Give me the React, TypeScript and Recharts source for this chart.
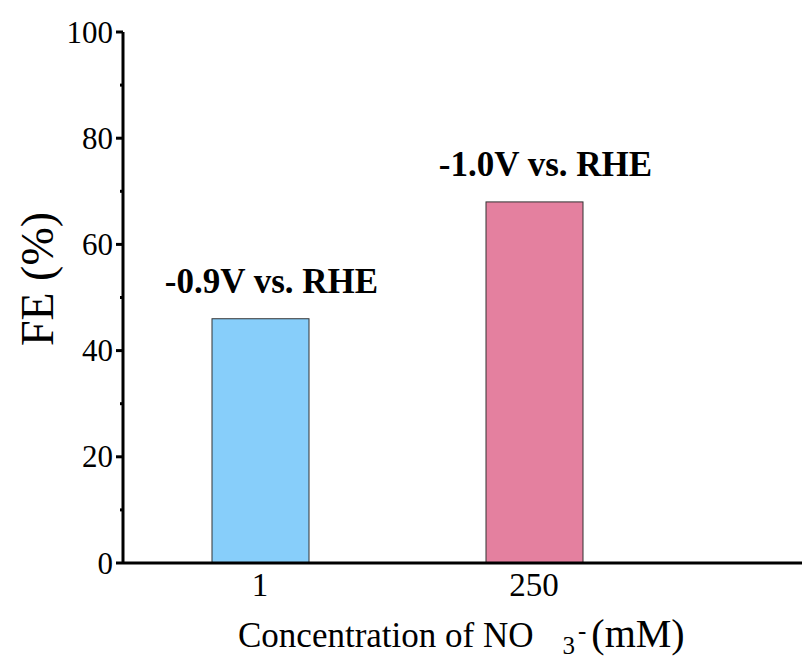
import { BarChart, Bar, XAxis, YAxis, LabelList } from 'recharts'

// NO3- concentration (mM) and Faradaic efficiency at the best potential
const concentrations = ['1', '250']
const faradaicEfficiency = [46, 68]
const potentials = ['-0.9V vs. RHE', '-1.0V vs. RHE']
const barColors = ['#87CEFA', '#E4809F']

const yTicks = [0, 10, 20, 30, 40, 50, 60, 70, 80, 90, 100]

const data = concentrations.map((c, i) => ({
  conc: c,
  fe: faradaicEfficiency[i],
  potential: potentials[i],
  color: barColors[i],
}))

const FONT = '"Liberation Serif", "Times New Roman", serif'

// major ticks every 20 with a label, short minor ticks in between
function YTick(props: any) {
  const { x, y, payload } = props
  const major = payload.value % 20 === 0
  return (
    <g>
      <line x1={x - (major ? 7 : 3)} x2={x} y1={y} y2={y} stroke="#000" strokeWidth={3} />
      {major && (
        <text x={x - 10} y={y} dy="0.34em" textAnchor="end" fontSize={31} fontFamily={FONT} fill="#000">
          {payload.value}
        </text>
      )}
    </g>
  )
}

function XLabel(props: any) {
  const { viewBox } = props
  const x = viewBox.x + 115
  const y = viewBox.y + 84
  return (
    <text x={x} y={y} textAnchor="start" fontSize={35} fontFamily={FONT} fill="#000">
      Concentration of NO
      <tspan fontSize={25} dx={29} dy={7}>3</tspan>
      <tspan fontSize={25} dx={3} dy={-15}>-</tspan>
      <tspan fontSize={40} dx={5} dy={8}>(mM)</tspan>
    </text>
  )
}

function YLabel() {
  const cx = 37
  const cy = 279
  return (
    <text x={cx} y={cy} transform={`rotate(-90 ${cx} ${cy})`} textAnchor="middle" dy="0.35em" fontSize={46} fontFamily={FONT} fill="#000">
      FE (%)
    </text>
  )
}

// potential written above each bar
function PotentialLabel(props: any) {
  const { x, y, width, value } = props
  return (
    <text x={x + width / 2 + 11} y={y - 26} textAnchor="middle" fontSize={35} fontWeight="bold" fontFamily={FONT} fill="#000">
      {value}
    </text>
  )
}

export default function App() {
  return (
    <div style={{ position: 'absolute', left: 0, top: 0, width: 802, height: 659, overflow: 'hidden', background: '#fff' }}>
      <BarChart width={950} height={659} data={data} margin={{ top: 32, right: 5, bottom: 0, left: 0 }}>
        <XAxis xAxisId="top" orientation="top" height={0} tick={false} tickLine={false} axisLine={{ stroke: '#000', strokeWidth: 3 }} />
        <XAxis
          dataKey="conc"
          height={96}
          padding={{ left: 0, right: 274 }}
          axisLine={{ stroke: '#000', strokeWidth: 3 }}
          tickLine={false}
          tickMargin={4}
          tick={{ fontSize: 33, fontFamily: FONT, fill: '#000' }}
          label={<XLabel />}
        />
        <YAxis
          width={123}
          domain={[0, 100]}
          ticks={yTicks}
          interval={0}
          tickSize={0}
          tickMargin={0}
          tickLine={false}
          axisLine={{ stroke: '#000', strokeWidth: 3 }}
          tick={<YTick />}
          label={<YLabel />}
        />
        <Bar dataKey="fe" barSize={97} isAnimationActive={false}
          shape={(p: any) => (
            <rect x={p.x} y={p.y} width={p.width} height={p.height} fill={p.payload.color} stroke="#333" strokeWidth={1} />
          )}
        >
          <LabelList dataKey="potential" content={<PotentialLabel />} />
        </Bar>
      </BarChart>
    </div>
  )
}
